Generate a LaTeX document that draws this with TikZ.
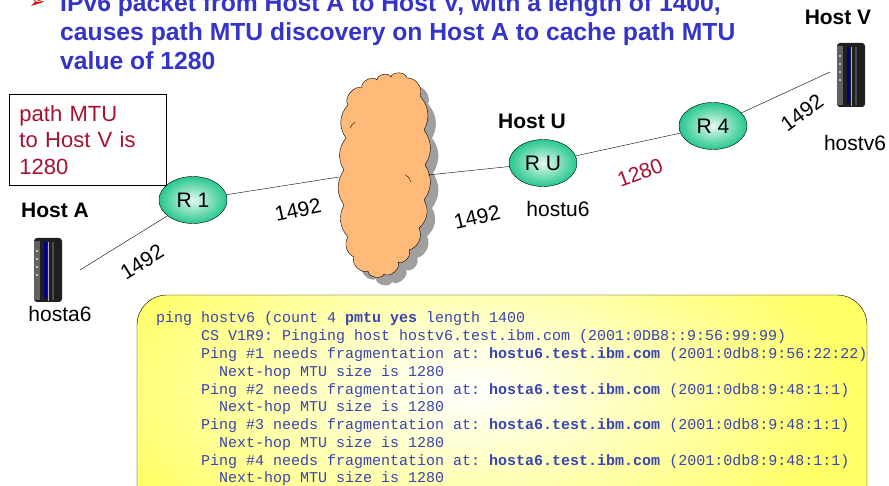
\documentclass[tikz,border=0pt]{standalone}
\usepackage{fontspec}
\setmainfont{Liberation Sans}
\setmonofont{Liberation Mono}
\newfontfamily\symfont{DejaVu Sans}
\usetikzlibrary{positioning, shapes.geometric, shadows}

\definecolor{titleblue}{RGB}{52,52,200}
\definecolor{mtured}{RGB}{168,16,48}
\definecolor{routergreen}{RGB}{38,200,140}
\definecolor{cloudorange}{RGB}{255,186,122}
\definecolor{noteyellow}{RGB}{255,255,102}
\definecolor{pingblue}{RGB}{56,68,176}

% outline of the network cloud
\def\netcloud{(348,105) to[bend left=75] (362,88) to[bend left=80] (377,80)
    to[bend left=80] (391,77) to[bend left=80] (407,78) to[bend left=60] (420,96)
    to[bend left=35] (424,130) to[bend left=35] (425,165)
    to[bend left=35] (424,200) to[bend left=40] (419,228)
    to[bend left=50] (409,250) to[bend left=75] (398,262)
    to[bend left=80] (384,274) to[bend left=80] (368,271)
    to[bend left=70] (354,257) to[bend left=50] (348,237)
    to[bend left=35] (344,205) to[bend left=35] (344,170)
    to[bend left=35] (346,138) to[bend left=40] cycle}

\tikzset{
    router/.style={ellipse, draw, thin, minimum width=68pt, minimum height=47pt,
        inner sep=0pt, inner color=routergreen!12!white, outer color=routergreen,
        font=\fontsize{21}{21}\selectfont},
    link/.style={draw, thin},
    mtu/.style={inner sep=0pt, font=\fontsize{21}{21}\selectfont},
    hostlabel/.style={inner sep=0pt, font=\fontsize{21}{21}\selectfont\bfseries},
    hostname/.style={inner sep=0pt, font=\fontsize{21}{21}\selectfont},
    pingline/.style={anchor=base west, inner sep=0pt, text=pingblue,
        font=\fontsize{15}{15}\selectfont\ttfamily},
    server/.pic={
        % cabinet
        \fill[black!88, rounded corners=3pt] (-14,-32) rectangle (14,32);
        \fill[black!62] (-14,-29) rectangle (-8,30);
        \foreach \k in {-20,-12,-4,4}
            \fill[gray!45] (-12,\k) rectangle (-10,\k+2);
        \fill[blue!55!black] (-4,-28) rectangle (-1,28);
        \draw[gray!60, thin] (0.5,-28) -- (0.5,31);
        \fill[black!70] (4,-28) rectangle (6,30);
    },
}

\begin{document}
\begin{tikzpicture}[x=1pt, y=-1pt]
    \useasboundingbox (0,0) rectangle (889,486);

    % heading
    \node[text=red!85!black, inner sep=0pt, font=\symfont\fontsize{20}{20}\selectfont] (bullet) at (37,3) {➢};
    \node[anchor=base west, inner sep=0pt, align=left, text=titleblue,
          font=\fontsize{24.7}{29}\selectfont\bfseries] (title) at (60,70)
        {IPv6 packet from Host A to Host V, with a length of 1400,\\
         causes path MTU discovery on Host A to cache path MTU\\
         value of 1280};

    % cached value on Host A
    \node[draw, thin, text=mtured, align=left, text width=137pt, inner xsep=10pt,
          minimum width=157pt, minimum height=91pt,
          font=\fontsize{22}{26.5}\selectfont] (mtubox) at (88,140)
        {path MTU\\ to Host V is\\ 1280};

    % hosts
    \pic at (48,270) {server};
    \pic at (851,75) {server};
    \coordinate (aport) at (80,270);
    \coordinate (vport) at (830,72);
    \node[hostlabel] (hostA) at (55,210) {Host A};
    \node[hostname] (hosta6) at (60,314) {hosta6};
    \node[hostlabel] (hostV) at (838,17) {Host V};
    \node[hostname] (hostv6) at (855,143) {hostv6};

    % routers and network
    \node[router] (r1) at (193,200) {R 1};
    \node[router] (ru) at (543,163) {R U};
    \node[router] (r4) at (713,126) {R 4};
    \node[hostlabel] (hostU) at (532,121) {Host U};
    \node[hostname] (hostu6) at (558,209) {hostu6};
    \fill[gray!75, shift={(8pt,-8pt)}] \netcloud;
    \filldraw[fill=cloudorange, thin] \netcloud;
    \draw[thin] (350,128) arc[start angle=200, end angle=245, radius=10];
    \draw[thin] (411,182) arc[start angle=-15, end angle=-60, radius=12];
    \coordinate (netwest) at (339,177);
    \coordinate (neteast) at (428,175);

    \draw[link] (aport) -- (r1);
    \draw[link] (r1) -- (netwest);
    \draw[link] (neteast) -- (ru);
    \draw[link] (ru) -- (r4);
    \draw[link] (r4) -- (vport);

    % link MTUs
    \node[mtu, rotate=32] (m1) at (142,262) {1492};
    \node[mtu, rotate=12] (m2) at (298,210) {1492};
    \node[mtu, rotate=13] (m3) at (477,217) {1492};
    \node[mtu, rotate=20, text=mtured] (m4) at (640,173) {1280};
    \node[mtu, rotate=36] (m5) at (802,113) {1492};

    % ping output
    \begin{scope}
        \path[clip, rounded corners=30pt] (137,295) rectangle (867,530);
        \fill[noteyellow] (137,295) rectangle (867,530);
        \shade[inner color=white, outer color=noteyellow] (470,390) ellipse (380 and 190);
    \end{scope}
    \draw[thin, rounded corners=30pt] (137,295) rectangle (867,530);
    \foreach \ind/\txt [count=\i from 0] in {
        0/{ping hostv6 (count 4 \textbf{pmtu yes} length 1400},
        5/{CS V1R9: Pinging host hostv6.test.ibm.com (2001:0DB8::9:56:99:99)},
        5/{Ping \#1 needs fragmentation at: \textbf{hostu6.test.ibm.com} (2001:0db8:9:56:22:22)},
        7/{Next-hop MTU size is 1280},
        5/{Ping \#2 needs fragmentation at: \textbf{hosta6.test.ibm.com} (2001:0db8:9:48:1:1)},
        7/{Next-hop MTU size is 1280},
        5/{Ping \#3 needs fragmentation at: \textbf{hosta6.test.ibm.com} (2001:0db8:9:48:1:1)},
        7/{Next-hop MTU size is 1280},
        5/{Ping \#4 needs fragmentation at: \textbf{hosta6.test.ibm.com} (2001:0db8:9:48:1:1)},
        7/{Next-hop MTU size is 1280}}
        \node[pingline] (ping\i) at (156+9*\ind, 323+17.75*\i) {\txt};
\end{tikzpicture}
\end{document}
